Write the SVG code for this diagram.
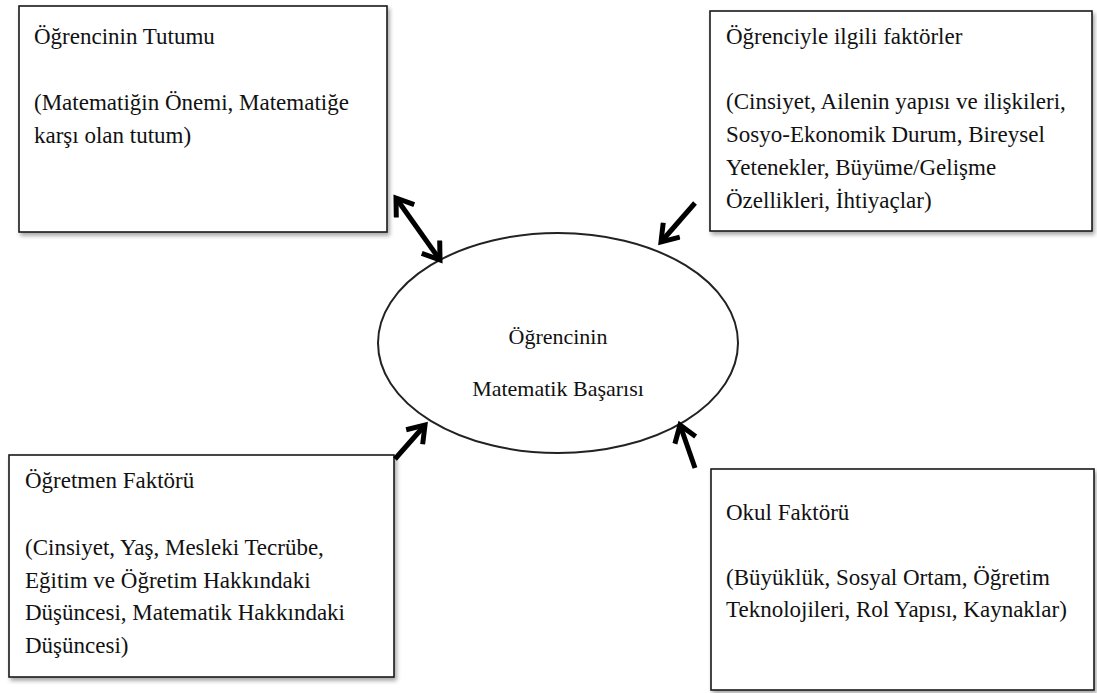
<svg xmlns="http://www.w3.org/2000/svg" width="1097" height="693" viewBox="0 0 1097 693">
<style>
.box{fill:#fff;stroke:#1a1a1a;stroke-width:1.6;filter:url(#sh)}
.t{font-family:"Liberation Serif","Times New Roman",serif;font-size:23px;fill:#111}
.c{font-family:"Liberation Serif","Times New Roman",serif;font-size:22px;fill:#111;text-anchor:middle}
.arr{stroke:#000;stroke-width:5;fill:none;marker-end:url(#ah)}
</style>
<defs>
<filter id="sh" x="-5%" y="-5%" width="115%" height="115%">
<feGaussianBlur in="SourceAlpha" stdDeviation="2"/>
<feOffset dx="2" dy="3" result="b"/>
<feComponentTransfer><feFuncA type="linear" slope="0.35"/></feComponentTransfer>
<feMerge><feMergeNode/><feMergeNode in="SourceGraphic"/></feMerge>
</filter>
<marker id="ah" viewBox="0 0 24 26" refX="19" refY="13" markerWidth="24" markerHeight="26" markerUnits="userSpaceOnUse" orient="auto-start-reverse">
<path d="M3,2 L19,13 L3,24" fill="none" stroke="#000" stroke-width="5" stroke-linejoin="miter"/>
</marker>
</defs>
<rect width="1097" height="693" fill="#fff"/>
<g id="node-tutum">
<rect class="box" x="19" y="6" width="368" height="226"/>
<text class="t" x="34" y="44">Öğrencinin Tutumu</text>
<text class="t" x="34" y="110">(Matematiğin Önemi, Matematiğe</text>
<text class="t" x="34" y="143">karşı olan tutum)</text>
</g>
<g id="node-ogrenci">
<rect class="box" x="710" y="11" width="382" height="220"/>
<text class="t" x="726" y="44">Öğrenciyle ilgili faktörler</text>
<text class="t" x="726" y="109">(Cinsiyet, Ailenin yapısı ve ilişkileri,</text>
<text class="t" x="726" y="142">Sosyo-Ekonomik Durum, Bireysel</text>
<text class="t" x="726" y="175">Yetenekler, Büyüme/Gelişme</text>
<text class="t" x="726" y="208">Özellikleri, İhtiyaçlar)</text>
</g>
<g id="node-ogretmen">
<rect class="box" x="9" y="455" width="385" height="222"/>
<text class="t" x="25" y="488">Öğretmen Faktörü</text>
<text class="t" x="25" y="555">(Cinsiyet, Yaş, Mesleki Tecrübe,</text>
<text class="t" x="25" y="588">Eğitim ve Öğretim Hakkındaki</text>
<text class="t" x="25" y="620">Düşüncesi, Matematik Hakkındaki</text>
<text class="t" x="25" y="653">Düşüncesi)</text>
</g>
<g id="node-okul">
<rect class="box" x="711" y="469" width="383" height="221"/>
<text class="t" x="726" y="520">Okul Faktörü</text>
<text class="t" x="726" y="585">(Büyüklük, Sosyal Ortam, Öğretim</text>
<text class="t" x="726" y="617">Teknolojileri, Rol Yapısı, Kaynaklar)</text>
</g>
<g id="node-basari">
<ellipse cx="558" cy="343" rx="180" ry="110" fill="#fff" stroke="#222" stroke-width="2"/>
<text class="c" x="558" y="344">Öğrencinin</text>
<text class="c" x="558" y="396">Matematik Başarısı</text>
</g>
<g id="connectors">
<path class="arr" d="M396,198 L440,260" marker-start="url(#ah)"/>
<path class="arr" d="M695,203 L661,242"/>
<path class="arr" d="M395,459 L425,425"/>
<path class="arr" d="M695,468 L680,425"/>
</g>
</svg>
